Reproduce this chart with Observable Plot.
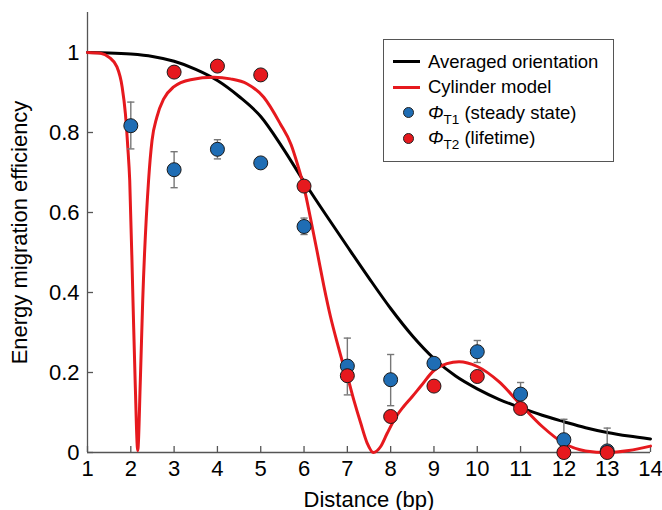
<!DOCTYPE html>
<html><head><meta charset="utf-8">
<script src="https://cdn.jsdelivr.net/npm/d3@7"></script>
<script src="https://cdn.jsdelivr.net/npm/@observablehq/plot@0.6"></script>
<style>
body{margin:0;background:#fff;}
#wrap{position:relative;width:662px;height:510px;font-family:"Liberation Sans",Arial,Helvetica,sans-serif;}
#legend{position:absolute;left:383px;top:39px;width:231px;height:123px;border:1.3px solid #555;box-sizing:border-box;background:#fff;padding-top:9px;}
.row{height:25.5px;position:relative;font-size:18.5px;color:#000;}
.row .mk{position:absolute;left:9px;width:27px;top:50%;height:3px;margin-top:-1.5px;}
.row .dot{position:absolute;left:18.5px;width:11px;height:11px;top:50%;margin-top:-5.5px;border-radius:50%;box-sizing:border-box;border:1px solid #222;}
.row .lb{position:absolute;left:44px;top:50%;transform:translateY(-50%);white-space:nowrap;line-height:1;}
.row .lb i{font-style:italic;}
.row .lb sub{font-size:13.5px;vertical-align:-5px;line-height:0;}
</style>
</head><body>
<div id="wrap"></div>
<script>
// Tick values and labels
const xTicks = [1,2,3,4,5,6,7,8,9,10,11,12,13,14];
const yTicks = [0,0.2,0.4,0.6,0.8,1];
const yTickLabels = ["0","0.2","0.4","0.6","0.8","1"];

// Averaged orientation curve
const avgX = [1,1.5,2,2.5,3,3.5,4,4.5,5,5.5,6,6.5,7,7.5,8,8.5,9,9.5,10,10.5,11,11.5,12,12.5,13,13.5,14];
const avgY = [1.0,0.999,0.996,0.99,0.978,0.958,0.93,0.89,0.84,0.763,0.677,0.595,0.515,0.436,0.36,0.292,0.235,0.191,0.159,0.133,0.112,0.093,0.077,0.062,0.05,0.041,0.034];

// Cylinder model curve
const cylX = [1.0,1.3,1.5,1.68,1.8,1.875,1.93,1.975,2.05,2.1,2.16,2.22,2.275,2.41,2.49,2.6,2.76,2.99,3.38,3.92,4.3,4.68,5.07,5.45,5.7,5.85,6.0,6.15,6.31,6.46,6.61,6.77,6.92,7.0,7.15,7.31,7.46,7.6,7.77,7.92,8.1,8.3,8.5,8.69,9.0,9.3,9.58,10.0,10.5,11.0,11.5,12.0,12.5,13.0,13.5,14.0];
const cylY = [1.0,0.998,0.988,0.964,0.914,0.847,0.764,0.68,0.38,0.18,0.005,0.18,0.38,0.68,0.78,0.838,0.884,0.914,0.932,0.938,0.934,0.922,0.888,0.822,0.77,0.72,0.662,0.585,0.498,0.415,0.34,0.273,0.215,0.19,0.131,0.073,0.023,0.0,0.015,0.048,0.085,0.115,0.14,0.165,0.205,0.222,0.227,0.215,0.177,0.12,0.065,0.023,0.004,0.0,0.005,0.016];

// Phi_T1 (steady state) with error bars
const t1X  = [2,3,4,5,6,7,8,9,10,11,12,13];
const t1Y  = [0.817,0.707,0.758,0.724,0.565,0.216,0.182,0.223,0.252,0.146,0.032,0.004];
const t1Lo = [0.759,0.662,0.734,null,0.545,0.144,0.117,null,0.225,0.118,0.0,0.0];
const t1Hi = [0.876,0.752,0.782,null,0.586,0.286,0.245,null,0.28,0.175,0.083,0.061];

// Phi_T2 (lifetime)
const t2X = [3,4,5,6,7,8,9,10,11,12,13];
const t2Y = [0.951,0.966,0.944,0.666,0.192,0.09,0.166,0.19,0.11,0.0,0.0];

const BLUE = "#1f6db4", RED = "#e6191e", GRID = "#555";

const avg = avgX.map((x,i)=>({x, y: avgY[i]}));
const cyl = cylX.map((x,i)=>({x, y: cylY[i]}));
const t1 = t1X.map((x,i)=>({x, y: t1Y[i], lo: t1Lo[i], hi: t1Hi[i]}));
const errs = t1.filter(d => d.lo != null);
const t2 = t2X.map((x,i)=>({x, y: t2Y[i]}));

const capSymbol = {draw(context, size){ const w = Math.sqrt(size/Math.PI); context.moveTo(-w,0); context.lineTo(w,0); }};

const chart = Plot.plot({
  width: 662, height: 510,
  marginLeft: 87, marginRight: 12, marginTop: 12, marginBottom: 58,
  style: {fontSize: "22px", fontFamily: "Liberation Sans, Arial, Helvetica, sans-serif", color: "#000", background: "#fff", overflow: "visible"},
  x: {domain: [1,14]},
  y: {domain: [0,1.1]},
  marks: [
    Plot.ruleY([0], {stroke: GRID, strokeWidth: 1.3}),
    Plot.ruleX([1], {stroke: GRID, strokeWidth: 1.3}),
    Plot.axisX({ticks: xTicks, tickSize: -6, tickPadding: 14, stroke: GRID, strokeWidth: 1.3, tickFormat: d => String(d),
      label: "Distance (bp)", labelAnchor: "center", labelOffset: 54, labelArrow: false}),
    Plot.axisY({ticks: yTicks, tickSize: -6, tickPadding: 14, stroke: GRID, strokeWidth: 1.3, tickFormat: d => yTickLabels[yTicks.indexOf(d)],
      label: "Energy migration efficiency", labelAnchor: "center", labelOffset: 76, labelArrow: false}),
    Plot.line(avg, {x: "x", y: "y", stroke: "#000", strokeWidth: 3, curve: "monotone-x"}),
    Plot.line(cyl, {x: "x", y: "y", stroke: RED, strokeWidth: 3, curve: "monotone-x"}),
    Plot.ruleX(errs, {x: "x", y1: "lo", y2: "hi", stroke: "#777", strokeWidth: 1.4}),
    Plot.dot(errs, {x: "x", y: "lo", symbol: capSymbol, r: 3.6, fill: "none", stroke: "#777", strokeWidth: 1.4}),
    Plot.dot(errs, {x: "x", y: "hi", symbol: capSymbol, r: 3.6, fill: "none", stroke: "#777", strokeWidth: 1.4}),
    Plot.dot(t1, {x: "x", y: "y", r: 7, fill: BLUE, stroke: "#1a1a1a", strokeWidth: 1}),
    Plot.dot(t2, {x: "x", y: "y", r: 7, fill: RED, stroke: "#1a1a1a", strokeWidth: 1})
  ]
});

const wrap = document.getElementById("wrap");
wrap.appendChild(chart);

const legend = document.createElement("div");
legend.id = "legend";
legend.innerHTML = `
  <div class="row"><span class="mk" style="background:#000"></span><span class="lb">Averaged orientation</span></div>
  <div class="row"><span class="mk" style="background:${RED}"></span><span class="lb">Cylinder model</span></div>
  <div class="row"><span class="dot" style="background:${BLUE}"></span><span class="lb"><i>Φ</i><sub>T1</sub> (steady state)</span></div>
  <div class="row"><span class="dot" style="background:${RED}"></span><span class="lb"><i>Φ</i><sub>T2</sub> (lifetime)</span></div>`;
wrap.appendChild(legend);
</script>
</body></html>
